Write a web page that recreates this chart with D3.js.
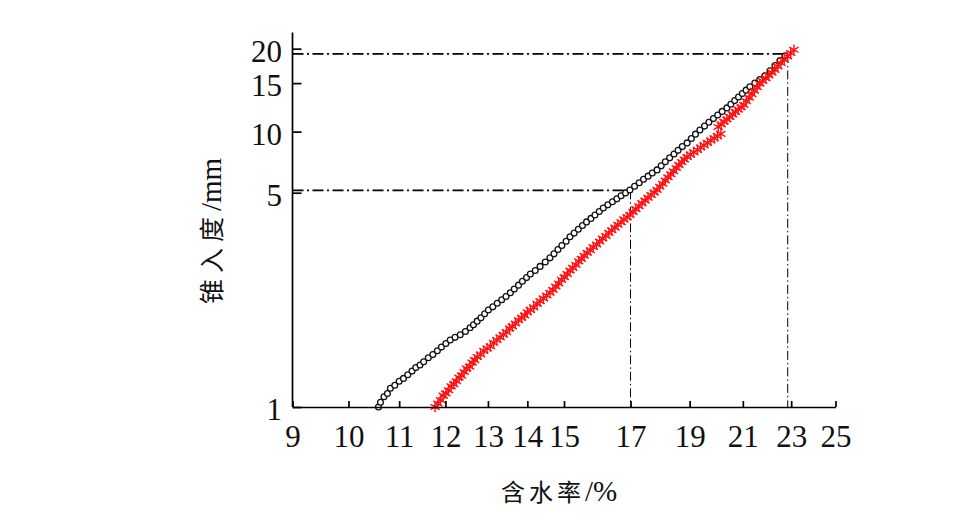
<!DOCTYPE html>
<html>
<head>
<meta charset="utf-8">
<script src="https://cdn.jsdelivr.net/npm/d3@7"></script>
<style>
  body { margin: 0; background: #fff; }
  svg { display: block; }
</style>
</head>
<body>
<script>
var width = 954, height = 531;

// tick values / labels
var xTicks = [9, 10, 11, 12, 13, 14, 15, 17, 19, 21, 23, 25];
var yTickValues = [1, 6, 10, 15, 20];
var yTickLabels = ["1", "5", "10", "15", "20"];

// dash-dot guide lines: [y value, x value where they turn down]
var guides = [[6.12, 17], [19.15, 22.85]];

// black circles
var blackSeries = [
  [10.58,1.00],[10.62,1.04],[10.69,1.09],[10.76,1.12],
  [10.82,1.17],[10.91,1.20],[11.00,1.24],
  [11.09,1.27],[11.18,1.31],[11.27,1.35],[11.35,1.39],[11.44,1.42],
  [11.52,1.46],[11.62,1.51],[11.72,1.55],[11.82,1.60],[11.91,1.65],[12.01,1.70],
  [12.11,1.75],[12.22,1.79],[12.34,1.83],[12.46,1.88],
  [12.57,1.94],[12.65,1.99],[12.74,2.05],[12.83,2.11],[12.92,2.18],
  [13.01,2.25],[13.12,2.31],[13.23,2.38],[13.34,2.45],[13.45,2.52],
  [13.56,2.60],[13.66,2.68],[13.77,2.77],[13.87,2.86],[13.98,2.95],
  [14.08,3.04],[14.21,3.13],[14.34,3.24],[14.48,3.36],
  [14.61,3.48],[14.72,3.60],[14.83,3.73],[14.94,3.86],[15.06,4.00],
  [15.17,4.15],[15.29,4.28],[15.41,4.42],[15.53,4.56],[15.65,4.70],[15.78,4.84],[15.90,4.98],[16.03,5.13],
  [16.15,5.28],[16.29,5.42],[16.43,5.56],[16.57,5.70],[16.70,5.85],[16.84,5.99],
  [16.98,6.14],[17.13,6.33],[17.28,6.52],[17.42,6.71],[17.57,6.89],[17.71,7.07],
  [17.87,7.26],[18.01,7.51],[18.15,7.77],[18.30,8.03],[18.45,8.29],[18.59,8.55],[18.74,8.82],
  [18.91,9.10],[19.06,9.44],[19.21,9.79],
  [19.37,10.14],[19.54,10.47],[19.70,10.81],[19.87,11.15],[20.03,11.49],[20.20,11.84],
  [20.38,12.19],[20.53,12.57],[20.68,12.96],[20.83,13.35],[20.98,13.75],[21.13,14.14],
  [21.28,14.54],[21.48,15.00],[21.68,15.46],
  [21.89,15.93],[22.10,16.64],[22.31,17.37],[22.52,18.10],[22.73,18.84]
];

// red stars
var redSeries = [
  [11.77,1.00],[11.83,1.03],[11.89,1.06],[11.95,1.10],[12.01,1.12],[12.07,1.15],[12.13,1.19],[12.19,1.21],
  [12.25,1.24],[12.31,1.28],[12.37,1.30],[12.43,1.34],[12.49,1.38],[12.56,1.40],[12.62,1.45],[12.68,1.48],
  [12.74,1.52],[12.82,1.55],[12.90,1.60],[12.98,1.63],[13.06,1.66],[13.14,1.71],[13.22,1.75],[13.30,1.79],
  [13.38,1.83],[13.46,1.87],[13.54,1.93],[13.61,1.96],[13.69,2.01],[13.77,2.07],[13.85,2.11],[13.93,2.15],[14.00,2.21],
  [14.08,2.25],[14.17,2.30],[14.26,2.37],[14.34,2.42],[14.43,2.48],[14.52,2.54],
  [14.61,2.60],[14.69,2.66],[14.77,2.74],[14.85,2.81],[14.93,2.90],[15.01,2.96],[15.09,3.04],[15.17,3.13],
  [15.25,3.20],[15.34,3.28],[15.42,3.38],[15.50,3.45],[15.58,3.54],
  [15.67,3.63],[15.76,3.71],[15.85,3.81],[15.95,3.89],[16.04,3.99],[16.13,4.09],[16.23,4.18],[16.32,4.29],
  [16.41,4.38],[16.51,4.48],[16.60,4.59],[16.70,4.69],[16.79,4.80],[16.89,4.89],
  [16.98,4.98],[17.08,5.11],[17.17,5.23],[17.27,5.36],[17.37,5.50],[17.47,5.62],[17.57,5.75],[17.67,5.89],[17.77,6.01],
  [17.87,6.14],[17.96,6.31],[18.06,6.47],[18.15,6.64],[18.24,6.83],[18.34,7.00],[18.43,7.18],[18.53,7.38],
  [18.62,7.56],[18.72,7.75],[18.81,7.92],
  [18.91,8.09],[19.03,8.25],[19.15,8.42],[19.28,8.58],[19.40,8.76],[19.52,8.92],[19.65,9.10],[19.77,9.29],
  [19.90,9.46],[20.02,9.63],[20.15,9.81],
  [20.05,10.40],[20.16,10.62],[20.27,10.86],[20.38,11.08],[20.49,11.31],[20.60,11.55],[20.71,11.78],[20.82,12.02],[20.93,12.26],
  [21.04,12.50],[21.14,12.88],[21.25,13.27],[21.36,13.68],[21.46,14.07],[21.57,14.49],
  [21.68,14.91],[21.80,15.27],[21.93,15.64],[22.05,16.00],[22.18,16.37],
  [22.30,16.75],[22.43,17.24],[22.56,17.74],[22.70,18.24],[22.84,18.76],[22.98,19.28],[23.12,19.81]
];

var svg = d3.select("body")
            .append("svg")
            .attr("width", width)
            .attr("height", height);

var x = d3.scaleLog()
          .domain([9, 25])
          .range([292.5, 835.5]);

var y = d3.scaleLog()
          .domain([1, 22.9])
          .range([407, 32.5]);

// guide lines, drawn under the data
var guideG = svg.append("g").attr("class", "guides");

guideG.selectAll("line.h")
      .data(guides)
      .enter()
      .append("line")
      .attr("class", "h")
      .attr("x1", x(9))
      .attr("x2", function(d) { return x(d[1]); })
      .attr("y1", function(d) { return y(d[0]); })
      .attr("y2", function(d) { return y(d[0]); })
      .attr("stroke", "#000")
      .attr("stroke-width", 1.7)
      .attr("stroke-dasharray", "11,3.5,2,3.5");

guideG.selectAll("line.v")
      .data(guides)
      .enter()
      .append("line")
      .attr("class", "v")
      .attr("x1", function(d) { return x(d[1]); })
      .attr("x2", function(d) { return x(d[1]); })
      .attr("y1", function(d) { return y(d[0]); })
      .attr("y2", y(1))
      .attr("stroke", "#000")
      .attr("stroke-width", 1)
      .attr("stroke-dasharray", "9,3,1.5,3");

// black circles
svg.append("g")
   .attr("class", "black")
   .selectAll("circle")
   .data(blackSeries)
   .enter()
   .append("circle")
   .attr("cx", function(d) { return x(d[0]); })
   .attr("cy", function(d) { return y(d[1]); })
   .attr("r", 2.9)
   .attr("fill", "#fff")
   .attr("stroke", "#111")
   .attr("stroke-width", 1.3);

// red stars
var star = d3.symbol().type(d3.symbolAsterisk || d3.symbolX).size(80);

svg.append("g")
   .attr("class", "red")
   .selectAll("path")
   .data(redSeries)
   .enter()
   .append("path")
   .attr("d", star)
   .attr("transform", function(d) { return "translate(" + x(d[0]) + "," + y(d[1]) + ")"; })
   .attr("fill", "none")
   .attr("stroke", "#ff1010")
   .attr("stroke-width", 1.4);

// axes
var xAxis = d3.axisBottom(x)
              .tickValues(xTicks)
              .tickFormat(d3.format("d"))
              .tickSizeInner(-6)
              .tickSizeOuter(0)
              .tickPadding(18);

var yAxis = d3.axisLeft(y)
              .tickValues(yTickValues)
              .tickFormat(function(d, i) { return yTickLabels[i]; })
              .tickSizeInner(-9)
              .tickSizeOuter(0)
              .tickPadding(10.5);

var gx = svg.append("g")
            .attr("transform", "translate(0," + y(1) + ")")
            .call(xAxis);

var gy = svg.append("g")
            .attr("transform", "translate(" + x(9) + ",0)")
            .call(yAxis);

gy.select(".domain").attr("d", "M0," + y(1) + "V32.5");

[gx, gy].forEach(function(g) {
  g.select(".domain").attr("stroke", "#000").attr("stroke-width", 1.7);
  g.selectAll(".tick line").attr("stroke", "#000").attr("stroke-width", 1.7);
  g.selectAll(".tick text")
   .attr("fill", "#111")
   .attr("font-family", "'Liberation Serif', 'Times New Roman', serif")
   .attr("font-size", 31);
});

gy.selectAll(".tick text").attr("dy", "0.4em");

// axis titles
var xTitle = svg.append("text")
                .attr("x", 559)
                .attr("y", 501)
                .attr("text-anchor", "middle")
                .attr("fill", "#111");
xTitle.append("tspan")
      .attr("font-family", "'Noto Sans CJK SC', sans-serif")
      .attr("font-size", 24)
      .attr("letter-spacing", 4)
      .text("含水率");
xTitle.append("tspan")
      .attr("font-family", "'Liberation Serif', serif")
      .attr("font-size", 29)
      .text("/%");

var yTitle = svg.append("text")
                .attr("transform", "translate(221,231) rotate(-90)")
                .attr("text-anchor", "middle")
                .attr("fill", "#111");
yTitle.append("tspan")
      .attr("font-family", "'Noto Sans CJK SC', sans-serif")
      .attr("font-size", 25)
      .attr("letter-spacing", 6)
      .text("锥入度");
yTitle.append("tspan")
      .attr("font-family", "'Liberation Serif', serif")
      .attr("font-size", 29)
      .text("/mm");
</script>
</body>
</html>
